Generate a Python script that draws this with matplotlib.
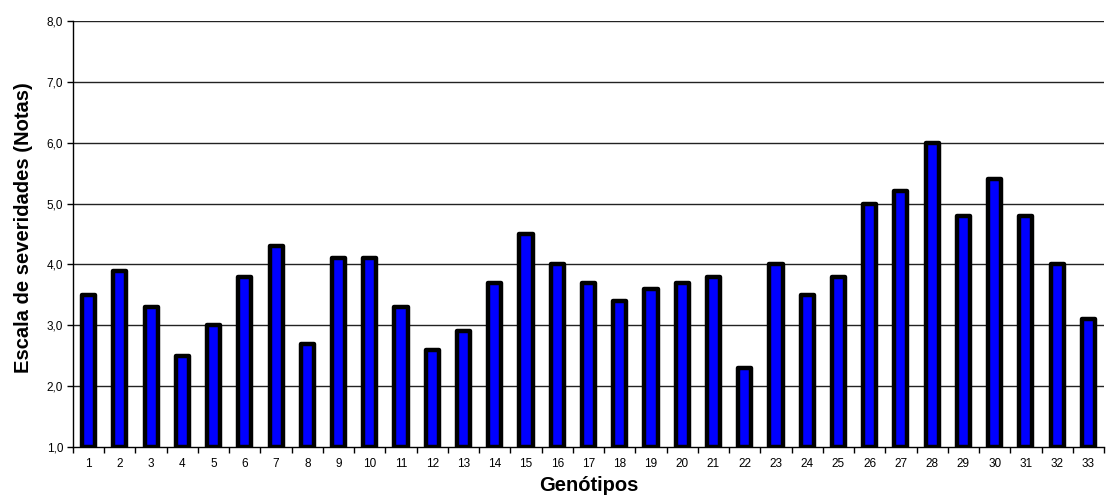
import matplotlib
matplotlib.use("Agg")
import matplotlib.pyplot as plt
import numpy as np

plt.rcParams['font.family'] = ['Liberation Sans', 'DejaVu Sans']

genotipos = [str(i) for i in range(1, 34)]
notas = [3.5, 3.9, 3.3, 2.5, 3.0, 3.8, 4.3, 2.7, 4.1, 4.1, 3.3, 2.6, 2.9, 3.7, 4.5,
         4.0, 3.7, 3.4, 3.6, 3.7, 3.8, 2.3, 4.0, 3.5, 3.8, 5.0, 5.2, 6.0, 4.8, 5.4,
         4.8, 4.0, 3.1]
yticks = [1.0, 2.0, 3.0, 4.0, 5.0, 6.0, 7.0, 8.0]
ytick_labels = ["1,0", "2,0", "3,0", "4,0", "5,0", "6,0", "7,0", "8,0"]

fig = plt.figure(figsize=(11.07, 4.97), dpi=100)
ax = fig.add_axes([73/1107, 1 - 447/497, (1104-73)/1107, (447-21)/497])

x = np.arange(len(genotipos))
base = 1.0
ax.bar(x, np.array(notas) - base, bottom=base, width=0.42, color='#0000FF',
       edgecolor='black', linewidth=3.2, zorder=3, joinstyle='round')

ax.set_xlim(-0.5, len(genotipos) - 0.5)
ax.set_ylim(1.0, 8.0)
ax.set_yticks(yticks)
ax.set_yticklabels(ytick_labels, fontsize=8.5)
ax.set_xticks(x)
ax.set_xticklabels(genotipos, fontsize=8.5)
ax.set_xticks(np.arange(-0.5, len(genotipos)), minor=True)
ax.tick_params(axis='x', which='major', length=0, pad=8)
ax.tick_params(axis='x', which='minor', length=4, direction='out', width=1)
ax.tick_params(axis='y', length=4, direction='out', width=1, pad=3)

for y in yticks[1:]:
    ax.axhline(y, color='#222222', linewidth=1.0, zorder=1)

for s in ['top', 'right']:
    ax.spines[s].set_visible(False)
ax.spines['left'].set_linewidth(1.0)
ax.spines['bottom'].set_linewidth(1.0)

ax.set_xlabel('Genótipos', fontsize=14.5, fontweight='bold', labelpad=4)
ax.set_ylabel('Escala de severidades (Notas)', fontsize=14.5, fontweight='bold')
ax.yaxis.set_label_coords(-0.0388, 0.514)

fig.savefig('out.png', dpi=100)
